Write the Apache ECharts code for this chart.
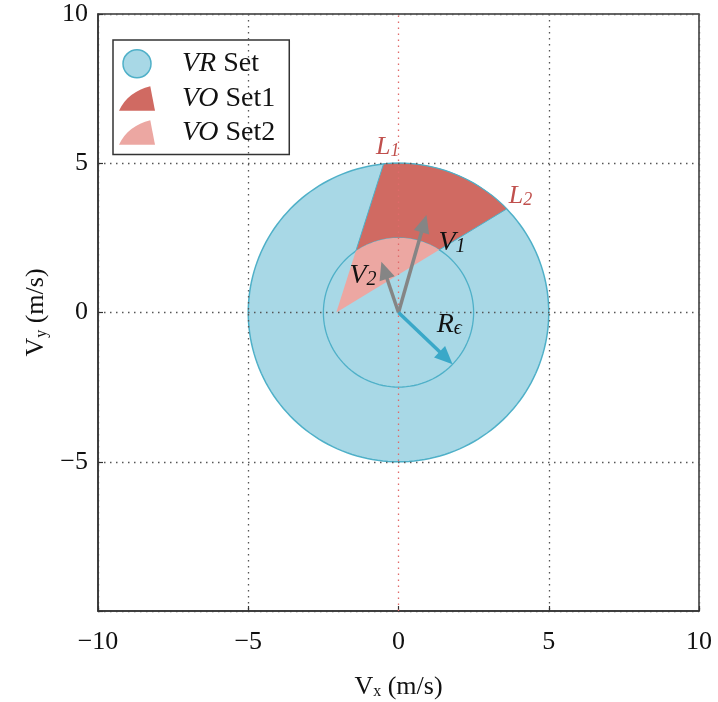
<!DOCTYPE html>
<html><head><meta charset="utf-8">
<script src="https://cdn.jsdelivr.net/npm/echarts@6/dist/echarts.min.js"></script>
<style>html,body{margin:0;padding:0;background:#fff}#c{width:718px;height:702px}</style>
</head><body><div id="c"></div>
<script>
// ---- data ----
const xTicks = [-10, -5, 0, 5, 10];
const yTicks = [-10, -5, 0, 5, 10];
const xTickLabels = ['\u221210', '\u22125', '0', '5', '10'];
const yTickLabels = ['', '\u22125', '0', '5', '10'];
const seriesNames = ['VR Set', 'VO Set1', 'VO Set2'];
const legendLabels = ['{i|VR} Set', '{i|VO} Set1', '{i|VO} Set2'];
const vrOuterRadius = [5];
const vrInnerRadius = [2.5];          // R_epsilon
const voApex = [-2.07, 0];
const voEdgeL1 = [-0.5, 4.97];
const voEdgeL2 = [3.6, 3.47];
const arrowV1 = [0.93, 3.27];
const arrowV2 = [-0.57, 1.7];
const arrowR = [1.8, -1.73];
const annotationText = ['{li|L}{ls|1}', '{li|L}{ls|2}', '{vi|V}{vs|1}', '{vi|V}{vs|2}', '{vi|R}{vs|ϵ}'];
const annotationAt = [[-0.75, 5.55], [3.67, 3.9], [1.33, 2.33], [-1.63, 1.23], [1.27, -0.4]];

// ---- geometry helpers (derived from data) ----
const SERIF = '"Liberation Serif","DejaVu Serif",serif';
function arc(r, a0, a1, n) {
  const out = [];
  for (let i = 0; i <= n; i++) {
    const a = a0 + (a1 - a0) * i / n;
    out.push([r * Math.cos(a), r * Math.sin(a)]);
  }
  return out;
}
function rayHit(A, P, r) {
  let dx = P[0] - A[0], dy = P[1] - A[1];
  const L = Math.hypot(dx, dy); dx /= L; dy /= L;
  const b = A[0] * dx + A[1] * dy;
  const c = A[0] * A[0] + A[1] * A[1] - r * r;
  const t = -b + Math.sqrt(b * b - c);
  return [A[0] + t * dx, A[1] + t * dy];
}
const ang = p => Math.atan2(p[1], p[0]);
const R1 = vrOuterRadius[0], R0 = vrInnerRadius[0];
const l1Out = rayHit(voApex, voEdgeL1, R1), l2Out = rayHit(voApex, voEdgeL2, R1);
const l1In = rayHit(voApex, voEdgeL1, R0), l2In = rayHit(voApex, voEdgeL2, R0);
const vo1Poly = [l1In].concat(arc(R1, ang(l1Out), ang(l2Out), 60), arc(R0, ang(l2In), ang(l1In), 40));
const vo2Poly = [voApex].concat(arc(R0, ang(l2In), ang(l1In), 40));
const outerPoly = arc(R1, 0, Math.PI * 2, 180);
const innerPoly = arc(R0, 0, Math.PI * 2, 120);

function arrowShapes(api, tip, color, w) {
  const p0 = api.coord([0, 0]), p1 = api.coord(tip);
  let dx = p1[0] - p0[0], dy = p1[1] - p0[1];
  const L = Math.hypot(dx, dy); dx /= L; dy /= L;
  const hl = 18, hw = 8;
  const bx = p1[0] - dx * hl, by = p1[1] - dy * hl;
  return [
    {type: 'line', shape: {x1: p0[0], y1: p0[1], x2: bx + dx * 3, y2: by + dy * 3}, style: {stroke: color, lineWidth: w}},
    {type: 'polygon', shape: {points: [p1, [bx - dy * hw, by + dx * hw], [bx + dy * hw, by - dx * hw]]}, style: {fill: color}}
  ];
}

const blueFill = '#a8d8e6', blueEdge = '#4fb0c8';
const red1 = '#d06a62', red2 = '#eca7a2';
const gridDash = [1.5, 4.5];

const chart = echarts.init(document.getElementById('c'), null, {renderer: 'canvas'});
const nameRich = {m: {fontFamily: SERIF, fontSize: 26, color: '#111'}, s: {fontFamily: SERIF, fontSize: 16, color: '#111', lineHeight: 8, verticalAlign: 'bottom'}};
const axisCommon = {
  type: 'value', min: -10, max: 10, interval: 5, z: 5,
  axisLine: {show: true, onZero: false, lineStyle: {color: '#333', width: 1.5}},
  axisTick: {show: true, inside: true, length: 5, lineStyle: {color: '#333', width: 1.2}},
  nameLocation: 'middle',
  nameTextStyle: {fontFamily: SERIF, fontSize: 26, color: '#111', rich: nameRich}
};
chart.setOption({
  animation: false,
  backgroundColor: '#fff',
  grid: {left: 98, top: 14, width: 601, height: 597, show: true, borderColor: '#333', borderWidth: 1.5,
    backgroundColor: 'transparent', containLabel: false, outerBoundsMode: 'none'},
  xAxis: Object.assign({}, axisCommon, {
    name: '{m|V}{s|x}{m| (m/s)}', nameGap: 63,
    axisLabel: {fontFamily: SERIF, fontSize: 26, color: '#111', margin: 18,
      formatter: v => xTickLabels[xTicks.indexOf(v)]},
    splitLine: {show: true, lineStyle: {type: gridDash, width: 1.3, color: ['#555', '#555', 'rgba(0,0,0,0)', '#555', '#555']}}
  }),
  yAxis: Object.assign({}, axisCommon, {
    name: '{m|V}{s|y}{m| (m/s)}', nameGap: 34,
    axisLabel: {fontFamily: SERIF, fontSize: 26, color: '#111', margin: 10,
      formatter: v => yTickLabels[yTicks.indexOf(v)]},
    splitLine: {show: true, lineStyle: {type: gridDash, width: 1.3, color: '#555'}}
  }),
  legend: {
    orient: 'vertical', left: 113, top: 40, padding: [9, 14, 8, 6],
    itemWidth: 36, itemHeight: 28, itemGap: 6, selectedMode: false,
    borderColor: '#333', borderWidth: 1.5,
    data: [
      {name: seriesNames[0], icon: 'circle', itemStyle: {color: blueFill, borderColor: blueEdge, borderWidth: 1.5}},
      {name: seriesNames[1], icon: 'path://M0,26 L38,26 L33,0 C18,4 6,12 0,26 Z', itemStyle: {color: red1, borderWidth: 0}},
      {name: seriesNames[2], icon: 'path://M0,26 L38,26 L33,0 C18,4 6,12 0,26 Z', itemStyle: {color: red2, borderWidth: 0}}
    ],
    formatter: name => legendLabels[seriesNames.indexOf(name)],
    textStyle: {fontFamily: SERIF, fontSize: 28, color: '#111', padding: [0, 0, 0, 22],
      rich: {i: {fontFamily: SERIF, fontSize: 28, fontStyle: 'italic', color: '#111'}}}
  },
  series: [
    {
      name: seriesNames[0], type: 'custom', z: 2, data: [[0, 0]],
      itemStyle: {color: blueFill, borderColor: blueEdge},
      renderItem: (p, api) => ({type: 'group', children: [
        {type: 'polygon', shape: {points: outerPoly.map(q => api.coord(q))}, style: {fill: blueFill, stroke: blueEdge, lineWidth: 1.5}},
        {type: 'polygon', shape: {points: innerPoly.map(q => api.coord(q))}, style: {fill: 'none', stroke: blueEdge, lineWidth: 1.3}}
      ]})
    },
    {
      name: seriesNames[1], type: 'custom', z: 3, data: [[0, 0]], itemStyle: {color: red1},
      renderItem: (p, api) => ({type: 'polygon', shape: {points: vo1Poly.map(q => api.coord(q))}, style: {fill: red1, stroke: blueEdge, lineWidth: 1}})
    },
    {
      name: seriesNames[2], type: 'custom', z: 3, data: [[0, 0]], itemStyle: {color: red2},
      renderItem: (p, api) => ({type: 'polygon', shape: {points: vo2Poly.map(q => api.coord(q))}, style: {fill: red2}})
    },
    {
      name: 'zeroLine', type: 'custom', z: 6, data: [[0, 0]], silent: true,
      renderItem: (p, api) => {
        const a = api.coord([0, yTicks[0]]), b = api.coord([0, yTicks[yTicks.length - 1]]);
        return {type: 'line', shape: {x1: a[0], y1: a[1], x2: b[0], y2: b[1]}, style: {stroke: '#e06a6a', lineWidth: 1.3, lineDash: gridDash}};
      }
    },
    {
      name: 'arrows', type: 'custom', z: 7, data: [[0, 0]], silent: true,
      renderItem: (p, api) => ({type: 'group', children: [].concat(
        arrowShapes(api, arrowV1, '#858585', 3.5),
        arrowShapes(api, arrowV2, '#858585', 3.5),
        arrowShapes(api, arrowR, '#3aa8c8', 3.5)
      )})
    },
    {
      name: 'labels', type: 'custom', z: 8, data: annotationAt.map((a, i) => [a[0], a[1], i]), silent: true,
      renderItem: (p, api) => {
        const i = api.value(2);
        const c = api.coord([api.value(0), api.value(1)]);
        return {type: 'text', x: c[0], y: c[1], style: {
          text: annotationText[i], align: 'left', verticalAlign: 'middle',
          rich: {
            li: {fontFamily: SERIF, fontStyle: 'italic', fontSize: 26, fill: '#c0504d'},
            ls: {fontFamily: SERIF, fontStyle: 'italic', fontSize: 18, fill: '#c0504d', lineHeight: 8, verticalAlign: 'bottom'},
            vi: {fontFamily: SERIF, fontStyle: 'italic', fontSize: 28, fill: '#111'},
            vs: {fontFamily: SERIF, fontStyle: 'italic', fontSize: 20, fill: '#111', lineHeight: 8, verticalAlign: 'bottom'}
          }
        }};
      }
    }
  ]
});
</script></body></html>
